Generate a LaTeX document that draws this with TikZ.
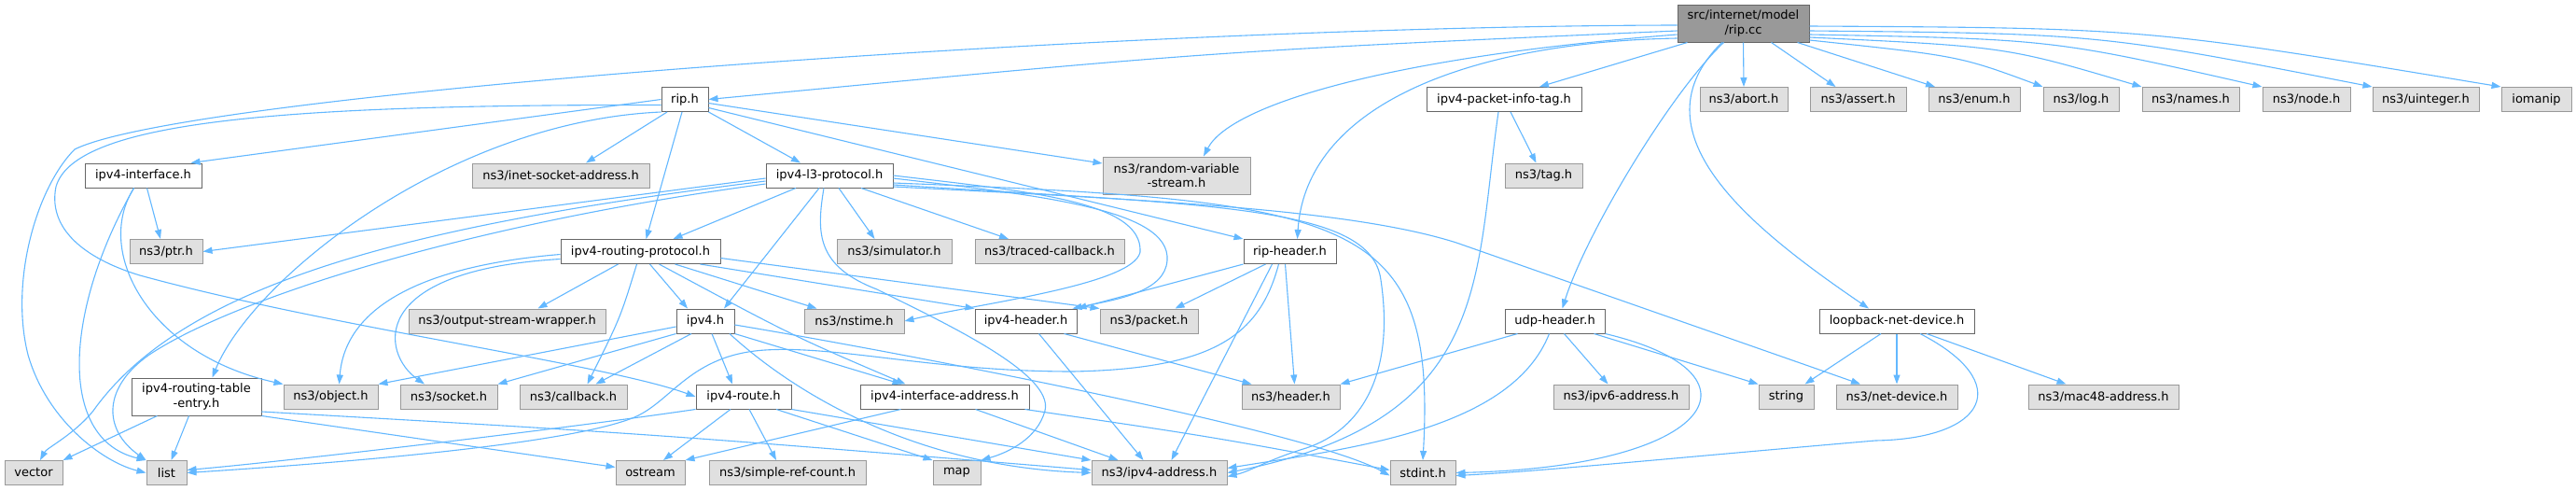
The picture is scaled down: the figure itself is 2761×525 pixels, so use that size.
\documentclass[tikz,border=0pt]{standalone}
\usepackage{fontspec}
\setmainfont{DejaVu Sans}
\usetikzlibrary{arrows.meta}
\definecolor{edgec}{HTML}{63B8FF}
\definecolor{gfill}{HTML}{E0E0E0}
\definecolor{gline}{HTML}{999999}
\definecolor{wline}{HTML}{666666}
\definecolor{rfill}{HTML}{999999}
\begin{document}
\begin{tikzpicture}[x=1pt,y=-1pt,
  wbox/.style={draw=wline, fill=white, line width=1pt, inner sep=0pt, minimum height=26pt,
    font=\fontsize{13}{15.5}\selectfont, align=center, text=black},
  gbox/.style={wbox, draw=gline, fill=gfill},
  tall/.style={minimum height=40pt},
  dep/.style={draw=edgec, line width=1.1pt, -{Triangle[length=10pt,width=7pt]}}
]
\fill[white] (0,0) rectangle (2761,525);
\useasboundingbox (0,0) rectangle (2761,525);

% row 0
\node[wbox,tall,fill=rfill,minimum width=141pt] (rc) at (1868.5,25) {src/internet/model\\/rip.cc};
% row 1
\node[wbox,minimum width=50pt] (riph) at (734,106.5) {rip.h};
\node[wbox,minimum width=166pt] (pinfo) at (1612,106.5) {ipv4-packet-info-tag.h};
\node[gbox,minimum width=94pt] (abort) at (1869,106.5) {ns3/abort.h};
\node[gbox,minimum width=103pt] (assert) at (1991.5,106.5) {ns3/assert.h};
\node[gbox,minimum width=98pt] (enum) at (2116,106.5) {ns3/enum.h};
\node[gbox,minimum width=81pt] (log) at (2230.5,106.5) {ns3/log.h};
\node[gbox,minimum width=104pt] (names) at (2348,106.5) {ns3/names.h};
\node[gbox,minimum width=94pt] (nodeh) at (2472,106.5) {ns3/node.h};
\node[gbox,minimum width=114pt] (uint) at (2600,106.5) {ns3/uinteger.h};
\node[gbox,minimum width=75pt] (ioman) at (2718.5,106.5) {iomanip};
% row 2
\node[wbox,minimum width=125pt] (ipv4iface) at (153.5,188) {ipv4-interface.h};
\node[gbox,minimum width=190pt] (inetsock) at (601,188) {ns3/inet-socket-address.h};
\node[wbox,minimum width=136pt] (l3) at (889,188) {ipv4-l3-protocol.h};
\node[gbox,tall,minimum width=158pt] (rvs) at (1261,188) {ns3/random-variable\\-stream.h};
\node[gbox,minimum width=83pt] (tag) at (1654.5,188) {ns3/tag.h};
% row 3
\node[gbox,minimum width=78pt] (ptr) at (178,269.5) {ns3/ptr.h};
\node[wbox,minimum width=171pt] (routing) at (686.5,269.5) {ipv4-routing-protocol.h};
\node[gbox,minimum width=123pt] (simh) at (958.5,269.5) {ns3/simulator.h};
\node[gbox,minimum width=160pt] (traced) at (1125,269.5) {ns3/traced-callback.h};
\node[wbox,minimum width=99pt] (riphdr) at (1382.5,269.5) {rip-header.h};
% row 4
\node[gbox,minimum width=211pt] (osw) at (543.5,344) {ns3/output-stream-wrapper.h};
\node[wbox,minimum width=62pt] (ipv4) at (756,344) {ipv4.h};
\node[gbox,minimum width=107pt] (nstime) at (915.5,344) {ns3/nstime.h};
\node[wbox,minimum width=109pt] (ipv4hdr) at (1099.5,344) {ipv4-header.h};
\node[gbox,minimum width=105pt] (packet) at (1231.5,344) {ns3/packet.h};
\node[wbox,minimum width=107pt] (udphdr) at (1666.5,344) {udp-header.h};
\node[wbox,minimum width=166pt] (loop) at (2033,344) {loopback-net-device.h};
% row 5
\node[wbox,tall,minimum width=139pt] (rte) at (210.5,425) {ipv4-routing-table\\-entry.h};
\node[gbox,minimum width=101pt] (object) at (354.5,425) {ns3/object.h};
\node[gbox,minimum width=104pt] (socket) at (481,425) {ns3/socket.h};
\node[gbox,minimum width=115pt] (callback) at (614.5,425) {ns3/callback.h};
\node[wbox,minimum width=102pt] (route) at (797,425) {ipv4-route.h};
\node[wbox,minimum width=181pt] (ifaddr) at (1012.5,425) {ipv4-interface-address.h};
\node[gbox,minimum width=105pt] (header) at (1383.5,425) {ns3/header.h};
\node[gbox,minimum width=145pt] (ipv6) at (1737.5,425) {ns3/ipv6-address.h};
\node[gbox,minimum width=59pt] (string) at (1914.5,425) {string};
\node[gbox,minimum width=130pt] (netdev) at (2033,425) {ns3/net-device.h};
\node[gbox,minimum width=161pt] (mac48) at (2254.5,425) {ns3/mac48-address.h};
% row 6
\node[gbox,minimum width=62pt] (vector) at (36,506.5) {vector};
\node[gbox,minimum width=43pt] (list) at (178.5,506.5) {list};
\node[gbox,minimum width=74pt] (ostream) at (697,506.5) {ostream};
\node[gbox,minimum width=168pt] (srefc) at (844,506.5) {ns3/simple-ref-count.h};
\node[gbox,minimum width=51pt] (map) at (1025.5,506.5) {map};
\node[gbox,minimum width=145pt] (ipv4addr) at (1242.5,506.5) {ns3/ipv4-address.h};
\node[gbox,minimum width=70pt] (stdint) at (1525,506.5) {stdint.h};

% ---- edges from rip.cc
\draw[dep] ([yshift=-2pt]rc.west) .. controls (1200,28) and (200,100) .. (80,160) .. controls (40,200) and (10,300) .. (30,380) .. controls (50,450) and (110,495) .. (list.west);
\draw[dep] ([yshift=-8pt]rc.west) .. controls (1300,55) .. (riph.east);
\draw[dep] ([yshift=-12pt]rc.west) .. controls (1500,60) and (1320,110) .. ([xshift=29pt]rvs.north);
\draw[dep] ([yshift=-16pt]rc.west) .. controls (1580,45) and (1400,110) .. ([xshift=8pt]riphdr.north);
\draw[dep] ([xshift=-60pt]rc.south) -- ([xshift=38pt]pinfo.north);
\draw[dep] (rc.south) -- (abort.north);
\draw[dep] ([xshift=30pt]rc.south) -- ([xshift=-24pt]assert.north);
\draw[dep] ([xshift=58pt]rc.south) -- ([xshift=-42pt]enum.north);
\draw[dep] ([yshift=-18pt]rc.east) .. controls (2100,60) .. (log.north west);
\draw[dep] ([yshift=-15pt]rc.east) .. controls (2150,50) .. (names.north west);
\draw[dep] ([yshift=-12pt]rc.east) .. controls (2200,42) .. (nodeh.north west);
\draw[dep] ([yshift=-8pt]rc.east) .. controls (2250,36) .. (uint.north west);
\draw[dep] ([yshift=-3pt]rc.east) .. controls (2300,30) .. (ioman.north west);
\draw[dep] ([xshift=-21pt]rc.south) .. controls (1790,100) and (1700,250) .. ([xshift=8pt]udphdr.north);
\draw[dep] ([xshift=-23pt]rc.south) .. controls (1750,140) and (1870,240) .. ([xshift=-30pt]loop.north);

% ---- rip.h
\draw[dep] (riph.west) -- ([xshift=51pt]ipv4iface.north);
\draw[dep] ([yshift=-6pt]riph.west) .. controls (300,112) and (80,130) .. (60,200) .. controls (50,250) and (100,280) .. (150,295) .. controls (350,350) and (650,390) .. (route.west);
\draw[dep] ([xshift=-19pt]riph.south) -- ([xshift=27pt]inetsock.north);
\draw[dep] ([xshift=-3pt]riph.south) -- ([xshift=6pt]routing.north);
\draw[dep] (riph.south east) -- ([xshift=-31pt]l3.north);
\draw[dep] ([yshift=-4pt]riph.east) -- ([yshift=13pt]rvs.west);
\draw[dep] ([yshift=-9pt]riph.east) -- (riphdr.north west);
\draw[dep] (riph.south west) .. controls (480,130) and (270,300) .. ([xshift=17pt]rte.north);

% ---- ipv4-interface.h
\draw[dep] ([xshift=4pt]ipv4iface.south) -- ([xshift=-6pt]ptr.north);
\draw[dep] ([xshift=-10pt]ipv4iface.south) .. controls (70,330) and (60,470) .. (list.north west);
\draw[dep] ([xshift=-10pt]ipv4iface.south) .. controls (100,270) and (160,380) .. (object.north west);

% ---- ipv4-l3-protocol.h
\draw[dep] ([yshift=-3pt]l3.west) -- (ptr.east);
\draw[dep] ([yshift=-6pt]l3.west) .. controls (450,240) and (200,300) .. (100,440) .. controls (80,465) and (50,480) .. ([xshift=7pt]vector.north);
\draw[dep] ([yshift=-9pt]l3.west) .. controls (500,240) and (250,320) .. (160,380) .. controls (110,415) and (110,460) .. (list.north west);
\draw[dep] ([xshift=-36pt]l3.south) -- ([xshift=35pt]routing.north);
\draw[dep] ([xshift=-11pt]l3.south) -- ([xshift=20pt]ipv4.north);
\draw[dep] ([xshift=-6pt]l3.south) .. controls (875,250) and (875,285) .. (940,310) .. controls (1010,345) and (1130,400) .. (1120,440) .. controls (1112,470) and (1080,485) .. (map.north east);
\draw[dep] ([xshift=10pt]l3.south) -- ([xshift=-21pt]simh.north);
\draw[dep] ([xshift=34pt]l3.south) -- ([xshift=-44pt]traced.north);
\draw[dep] (l3.east) .. controls (1100,205) and (1225,215) .. (1222,270) .. controls (1215,305) and (1050,325) .. (nstime.east);
\draw[dep] ([yshift=-3pt]l3.east) .. controls (1120,210) and (1265,225) .. (1250,285) .. controls (1242,315) and (1190,322) .. ([xshift=-5pt]ipv4hdr.north east);
\draw[dep] ([yshift=-10pt]l3.east) .. controls (1300,220) and (1470,220) .. (1480,300) .. controls (1495,400) and (1460,460) .. (1400,480) .. controls (1360,492) and (1340,505) .. ([yshift=-4pt]ipv4addr.east);
\draw[dep] ([yshift=-8pt]l3.east) .. controls (1450,215) and (1540,230) .. (stdint.north);
\draw[dep] ([yshift=-12pt]l3.east) .. controls (1250,215) and (1450,225) .. (1561,260) -- ([xshift=-39pt]netdev.north);

% ---- ipv4-routing-protocol.h
\draw[dep] ([yshift=-3pt]routing.west) .. controls (450,285) and (370,330) .. ([xshift=9pt]object.north);
\draw[dep] ([yshift=-8pt]routing.west) .. controls (390,290) and (410,380) .. ([xshift=-26pt]socket.north);
\draw[dep] ([xshift=-24pt]routing.south) -- ([xshift=33pt]osw.north);
\draw[dep] ([xshift=-4pt]routing.south) .. controls (665,340) .. ([xshift=15pt]callback.north);
\draw[dep] ([xshift=10pt]routing.south) -- ([xshift=-19pt]ipv4.north);
\draw[dep] ([xshift=20pt]routing.south) .. controls (850,360) .. ([xshift=-42pt]ifaddr.north);
\draw[dep] ([xshift=37pt]routing.south) -- ([xshift=-40pt]nstime.north);
\draw[dep] ([xshift=64pt]routing.south) -- (ipv4hdr.north west);
\draw[dep] ([yshift=-7pt]routing.east) -- (packet.north west);

% ---- ipv4.h
\draw[dep] ([yshift=-6pt]ipv4.west) -- (object.north east);
\draw[dep] (ipv4.south west) -- (socket.north east);
\draw[dep] ([xshift=-15pt]ipv4.south) -- ([xshift=24pt]callback.north);
\draw[dep] ([xshift=7pt]ipv4.south) -- ([xshift=-12pt]route.north);
\draw[dep] (ipv4.south east) -- ([xshift=-46pt]ifaddr.north);
\draw[dep] ([xshift=26pt]ipv4.south) .. controls (850,420) and (980,500) .. (ipv4addr.west);
\draw[dep] ([yshift=-4pt]ipv4.east) .. controls (950,375) and (1400,460) .. ([yshift=-3pt]stdint.west);

% ---- ipv4-route.h
\draw[dep] (route.south west) .. controls (600,460) and (300,495) .. ([yshift=3pt]list.east);
\draw[dep] ([xshift=-14pt]route.south) -- ([xshift=14pt]ostream.north);
\draw[dep] ([xshift=6pt]route.south) -- ([xshift=-12pt]srefc.north);
\draw[dep] ([xshift=35pt]route.south) -- (map.north west);
\draw[dep] (route.south east) -- (ipv4addr.north west);

% ---- ipv4-interface-address.h
\draw[dep] ([xshift=-47pt]ifaddr.south) -- (ostream.north east);
\draw[dep] ([xshift=33pt]ifaddr.south) -- ([xshift=-44pt]ipv4addr.north);
\draw[dep] ([xshift=-5pt]ifaddr.south east) .. controls (1300,468) .. ([yshift=3pt]stdint.west);

% ---- ipv4-routing-table-entry.h
\draw[dep] ([xshift=-42pt]rte.south) -- (vector.north east);
\draw[dep] ([xshift=-8pt]rte.south) -- ([xshift=5pt]list.north);
\draw[dep] (rte.south east) -- ([yshift=6pt]ostream.west);
\draw[dep] ([yshift=-16pt]rte.east) .. controls (700,465) .. ([yshift=3pt]ipv4addr.west);

% ---- ipv4-header.h
\draw[dep] ([xshift=14pt]ipv4hdr.south) -- ([xshift=-17pt]ipv4addr.north);
\draw[dep] ([xshift=41pt]ipv4hdr.south) -- ([xshift=-42pt]header.north);

% ---- rip-header.h
\draw[dep] ([xshift=-26pt]riphdr.south) -- ([xshift=28pt]packet.north);
\draw[dep] (riphdr.south west) -- (ipv4hdr.north east);
\draw[dep] ([xshift=-19pt]riphdr.south) -- ([xshift=13pt]ipv4addr.north);
\draw[dep] ([xshift=-5pt]riphdr.south) -- ([xshift=4pt]header.north);
\draw[dep] ([xshift=-12pt]riphdr.south) .. controls (1350,360) and (1300,395) .. (1150,398) .. controls (1000,398) and (900,370) .. (820,375) .. controls (740,380) and (720,430) .. (680,447) .. controls (600,480) and (300,500) .. (list.east);

% ---- udp-header.h
\draw[dep] ([xshift=-40pt]udphdr.south) -- (header.north east);
\draw[dep] ([xshift=10pt]udphdr.south) -- ([xshift=-14pt]ipv6.north);
\draw[dep] ([xshift=42pt]udphdr.south) -- (string.north west);
\draw[dep] (udphdr.south east) .. controls (1900,400) and (1840,500) .. (stdint.east);
\draw[dep] ([xshift=-6pt]udphdr.south) .. controls (1620,460) and (1450,480) .. ([yshift=5pt]ipv4addr.east);

% ---- loopback-net-device.h
\draw[dep] ([xshift=-17pt]loop.south) -- ([xshift=20pt]string.north);
\draw[dep] (loop.south) -- (netdev.north);
\draw[dep] ([xshift=32pt]loop.south) -- ([xshift=-40pt]mac48.north);
\draw[dep] ([xshift=25pt]loop.south) .. controls (2160,410) and (2130,470) .. (2010,472) .. controls (1800,490) and (1650,505) .. ([yshift=-3pt]stdint.east);

% ---- ipv4-packet-info-tag.h
\draw[dep] ([xshift=7pt]pinfo.south) -- ([xshift=-8pt]tag.north);
\draw[dep] ([xshift=-6pt]pinfo.south) .. controls (1580,300) and (1600,450) .. (ipv4addr.east);
\end{tikzpicture}
\end{document}
